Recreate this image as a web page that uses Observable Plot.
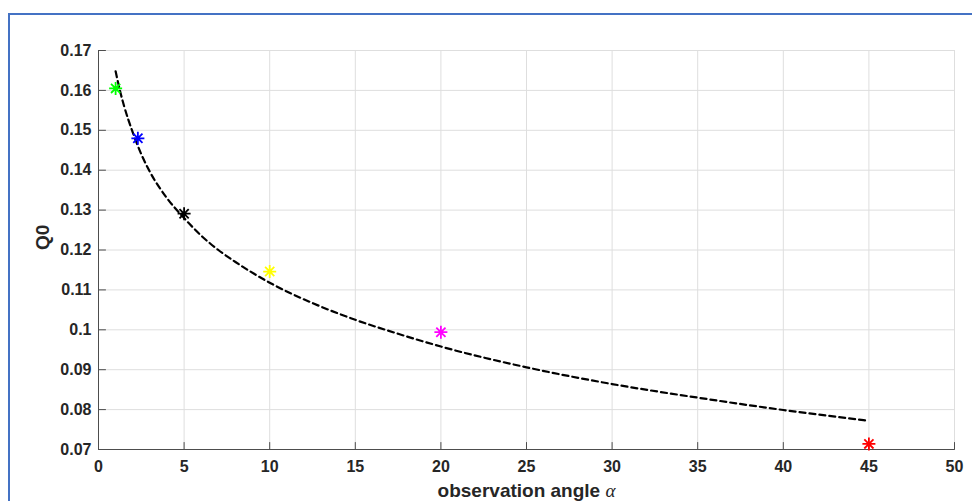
<!DOCTYPE html>
<html>
<head>
<meta charset="utf-8">
<script src="https://cdn.jsdelivr.net/npm/d3@7"></script>
<script src="https://cdn.jsdelivr.net/npm/@observablehq/plot@0.6"></script>
<style>
  html, body { margin: 0; padding: 0; background: #fff; }
  #wrap { position: relative; width: 972px; height: 501px; overflow: hidden; background: #fff; }
  #frame { position: absolute; left: 8px; top: 13px; width: 1200px; height: 800px;
           border-left: 2px solid #4472C4; border-top: 2px solid #4472C4; box-sizing: border-box; }
  #chart { position: absolute; left: 0; top: 0; }
</style>
</head>
<body>
<div id="wrap"><div id="frame"></div><div id="chart"></div></div>
<script>
// Measured points (observation angle α vs Q0)
const pointAlpha = [1, 2.3, 5, 10, 20, 45];
const pointQ0 = [0.1605, 0.1480, 0.1291, 0.1146, 0.0994, 0.0714];
const pointColors = ["#00ff00", "#0000ff", "#000000", "#ffff00", "#ff00ff", "#ff0000"];

// Dashed fitted curve
const fitAlpha = [1, 1.25, 1.5, 2, 2.5, 3, 4, 5, 6, 7, 8, 10, 12.5, 15, 17.5, 20, 25, 30, 35, 40, 45];
const fitQ0 = [0.1648, 0.1600, 0.1560, 0.1495, 0.1440, 0.1396, 0.1330, 0.1280, 0.1236, 0.1200, 0.1170,
               0.1118, 0.1067, 0.1025, 0.0990, 0.0958, 0.0906, 0.0864, 0.0830, 0.0799, 0.0772];

// Tick values
const xTicks = [0, 5, 10, 15, 20, 25, 30, 35, 40, 45, 50];
const yTicks = [0.07, 0.08, 0.09, 0.10, 0.11, 0.12, 0.13, 0.14, 0.15, 0.16, 0.17];

const xLabel = "observation angle α";
const yLabel = "Q0";

const points = pointAlpha.map((a, i) => ({alpha: a, q0: pointQ0[i], color: pointColors[i]}));
const fit = fitAlpha.map((a, i) => ({alpha: a, q0: fitQ0[i]}));

// MATLAB-style asterisk: + and x combined
const asterisk8 = {
  draw(ctx, size) {
    const r = Math.sqrt(size / Math.PI);
    for (let k = 0; k < 4; k++) {
      const a = k * Math.PI / 4;
      const c = Math.cos(a) * r, s = Math.sin(a) * r;
      ctx.moveTo(c, s);
      ctx.lineTo(-c, -s);
    }
  }
};

// straight tick shape for vector marks
const tickShape = {
  draw(ctx, l) { ctx.moveTo(0, 0); ctx.lineTo(0, -l); }
};

const font = "'Liberation Sans', Arial, Helvetica, sans-serif";
const ink = "#262626";
const axisInk = "#4d4d4d";

const chart = Plot.plot({
  width: 972,
  height: 501,
  marginLeft: 98,
  marginRight: 18,
  marginTop: 50,
  marginBottom: 52,
  style: {fontFamily: font, fontSize: "16px", fontWeight: "bold", color: ink, background: "transparent"},
  x: {domain: [0, 50]},
  y: {domain: [0.07, 0.17]},
  marks: [
    Plot.gridX(xTicks, {stroke: "#dedede", strokeOpacity: 1}),
    Plot.gridY(yTicks, {stroke: "#dedede", strokeOpacity: 1}),
    Plot.axisX(xTicks, {tickSize: 0, tickPadding: 11, fill: ink, fontSize: 16, fontWeight: "bold", label: null,
      tickFormat: d => String(d)}),
    Plot.axisY(yTicks, {tickSize: 0, tickPadding: 7, fill: ink, fontSize: 16, fontWeight: "bold", label: null,
      tickFormat: d => String(+d.toFixed(2))}),
    // inward ticks
    Plot.vector(xTicks, {x: d => d, frameAnchor: "bottom", length: 7, rotate: 0, anchor: "start",
      shape: tickShape, stroke: axisInk, strokeWidth: 1}),
    Plot.vector(yTicks, {y: d => d, frameAnchor: "left", length: 7, rotate: 90, anchor: "start",
      shape: tickShape, stroke: axisInk, strokeWidth: 1}),
    Plot.ruleX([0], {stroke: axisInk, strokeWidth: 1}),
    Plot.ruleY([0.07], {stroke: axisInk, strokeWidth: 1}),
    Plot.line(fit, {x: "alpha", y: "q0", stroke: "#000", strokeWidth: 2.2, strokeDasharray: "6,4", curve: "monotone-x"}),
    Plot.dot(points, {x: "alpha", y: "q0", stroke: d => d.color, symbol: asterisk8, r: 6.5, strokeWidth: 1.8}),
    Plot.text([xLabel], {frameAnchor: "bottom", dy: 41, text: d => d, fontSize: 19, fontWeight: "bold", fill: ink, lineAnchor: "middle"}),
    Plot.text([yLabel], {frameAnchor: "left", dx: -56, rotate: -90, text: d => d, fontSize: 19, fontWeight: "bold", fill: ink, lineAnchor: "middle"})
  ]
});

document.getElementById("chart").appendChild(chart);

// Render α like MATLAB's LaTeX italic alpha
chart.querySelectorAll("text").forEach(t => {
  if (t.textContent === xLabel) {
    t.textContent = "observation angle ";
    const ts = document.createElementNS("http://www.w3.org/2000/svg", "tspan");
    ts.textContent = "α";
    ts.setAttribute("font-style", "italic");
    ts.setAttribute("font-weight", "normal");
    ts.setAttribute("font-family", "'Liberation Serif', 'DejaVu Serif', serif");
    t.appendChild(ts);
  }
});
</script>
</body>
</html>
